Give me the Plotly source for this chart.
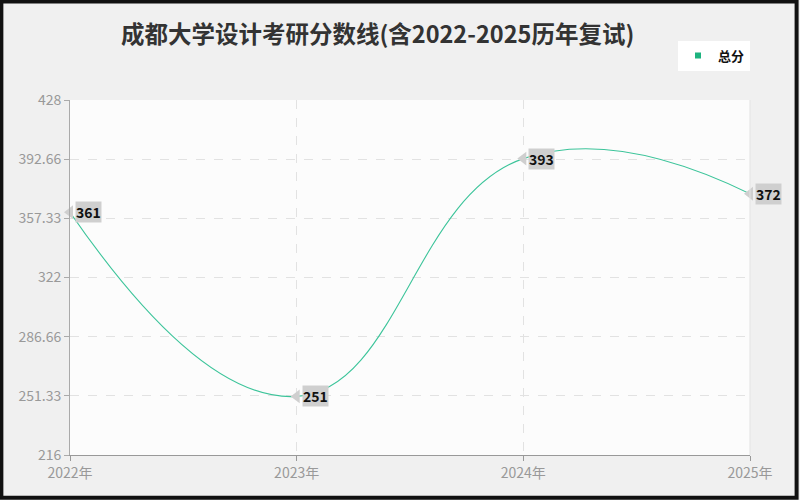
import plotly.graph_objects as go

# data
years = ["2022年", "2023年", "2024年", "2025年"]
scores = [361, 251, 393, 372]
ytick_vals = [216, 251.33, 286.66, 322, 357.33, 392.66, 428]
ytick_text = ["216", "251.33", "286.66", "322", "357.33", "392.66", "428"]

title = "成都大学设计考研分数线(含2022-2025历年复试)"
series_name = "总分"
line_color = "#3cc49a"
font_family = "Noto Sans CJK SC, Noto Sans, sans-serif"

W, H = 800, 500
ml, mr, mt, mb = 70, 50, 100, 45

fig = go.Figure()

# smooth line
fig.add_trace(go.Scatter(
    x=years, y=scores, mode="lines", name=series_name,
    line=dict(color=line_color, width=1.1, shape="spline", smoothing=1.3),
    showlegend=False, hoverinfo="skip",
))

# legend entry (square marker)
fig.add_trace(go.Scatter(
    x=[None], y=[None], mode="markers", name=f"<b>{series_name}</b>",
    marker=dict(symbol="square", size=6, color="#1db37f"),
))

# callout pointers
fig.add_trace(go.Scatter(
    x=years, y=scores, mode="markers", showlegend=False, hoverinfo="skip",
    marker=dict(symbol="triangle-left", size=12, color="#cfcfcf"),
    cliponaxis=False,
))

for yr, v in zip(years, scores):
    fig.add_annotation(
        x=yr, y=v, text=f"<b>{v}</b>", showarrow=False,
        xanchor="left", yanchor="middle", xshift=5,
        bgcolor="#cfcfcf", borderpad=0,
        font=dict(family=font_family, size=14, color="#111"),
    )

pw = W - ml - mr
ph = H - mt - mb

# outer window frame
fig.add_shape(
    type="rect", xref="paper", yref="paper",
    x0=-ml / pw + 0.002, x1=1 + mr / pw - 0.005,
    y0=-mb / ph + 0.006, y1=1 + mt / ph - 0.004,
    line=dict(color="#111", width=4), layer="below",
)
# right border of plot area
fig.add_shape(
    type="line", xref="paper", yref="paper", x0=1, x1=1, y0=0, y1=1,
    line=dict(color="#e3e3e3", width=1),
)

fig.update_layout(
    width=W, height=H,
    margin=dict(l=ml, r=mr, t=mt, b=mb),
    paper_bgcolor="#f0f0f0",
    plot_bgcolor="#fcfcfc",
    font=dict(family=font_family, color="#999"),
    title=dict(
        text=f"<b>{title}</b>", x=0.472, xanchor="center", y=0.93, yanchor="middle",
        font=dict(family=font_family, size=23.5, color="#333"),
    ),
    legend=dict(
        x=1.0, xanchor="right", y=1.125, yanchor="middle",
        bgcolor="white", font=dict(family=font_family, size=13, color="#111"),
        borderwidth=0, itemwidth=30,
    ),
)

fig.update_xaxes(
    type="category", range=[0, 3],
    showgrid=True, gridcolor="#e2e2e2", griddash="dash",
    showline=True, linecolor="#999", linewidth=1,
    ticks="outside", ticklen=5, tickcolor="#999",
    tickfont=dict(size=14, color="#999"),
    zeroline=False,
)
fig.update_yaxes(
    range=[216, 428], tickvals=ytick_vals, ticktext=ytick_text,
    showgrid=True, gridcolor="#e2e2e2", griddash="dash",
    showline=True, linecolor="#aaa", linewidth=1,
    ticks="outside", ticklen=5, tickcolor="#aaa",
    tickfont=dict(size=14, color="#999"),
    zeroline=False,
)

fig.write_html(
    "out.html",
    config={"displayModeBar": False},
    post_script="document.body.style.margin='0';document.body.style.overflow='hidden';",
)
